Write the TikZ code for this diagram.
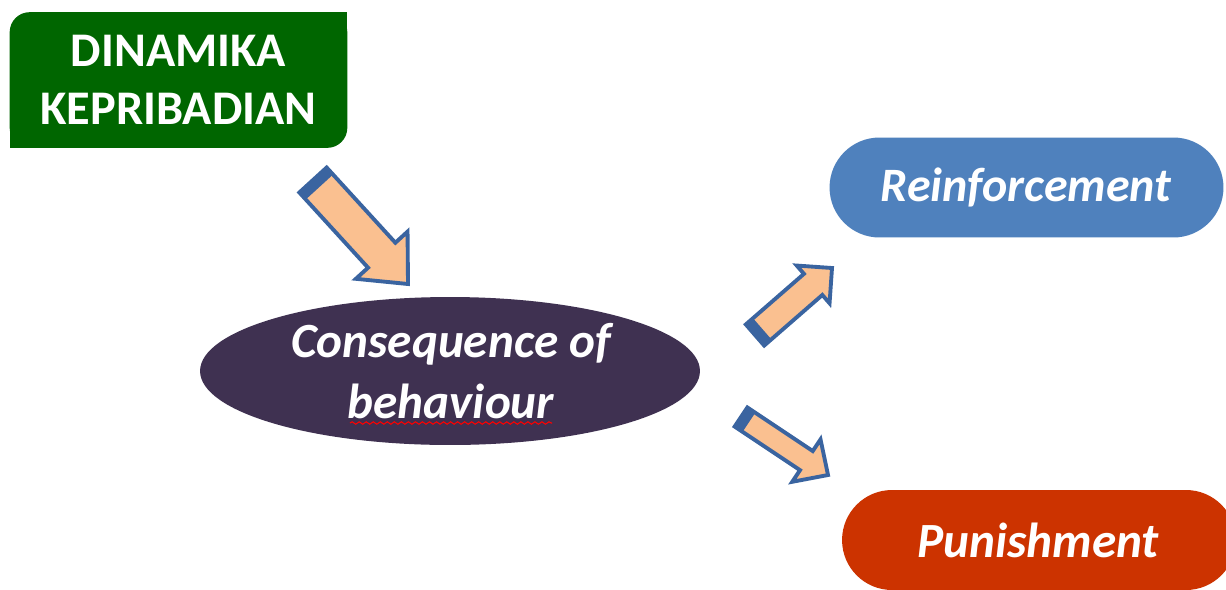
\documentclass[tikz,border=0pt]{standalone}
\usepackage{fontspec}
\setmainfont{Carlito}
\usetikzlibrary{calc,shapes.geometric,decorations.pathmorphing}
\definecolor{dkgreen}{HTML}{006600}
\definecolor{plum}{HTML}{3F3151}
\definecolor{steel}{HTML}{4F81BD}
\definecolor{rust}{HTML}{CC3300}
\definecolor{peach}{HTML}{FAC090}
\definecolor{arrline}{HTML}{3A64A0}
\tikzset{
  arrowbody/.style={fill=peach,draw=arrline,line width=2.2pt,line join=miter},
  arrowband/.style={fill=arrline},
  wtext/.style={text=white,align=center,inner sep=0pt},
  pill/.style={rounded corners=1cm,minimum width=7.88cm,minimum height=2cm,inner sep=0pt}
}
\newcommand\blockarr[5]{%
  \coordinate (#1n) at ($(#2)!#5!(#1)$);
  \coordinate (#1b) at ($(#1)!0.19cm!(#2)$);
  \filldraw[arrowbody] ($(#1)!#3!90:(#2)$) -- ($(#1n)!#3!90:(#2)$) -- ($(#1n)!#4!90:(#2)$) -- (#2) -- ($(#1n)!#4!-90:(#2)$) -- ($(#1n)!#3!-90:(#2)$) -- ($(#1)!#3!-90:(#2)$) -- cycle;
  \fill[arrowband] ($(#1)!#3!90:(#2)$) -- ($(#1b)!#3!90:(#2)$) -- ($(#1b)!#3!-90:(#2)$) -- ($(#1)!#3!-90:(#2)$) -- cycle;
}
\begin{document}
\begin{tikzpicture}[x=0.02cm,y=-0.02cm]
\clip (0,0) rectangle (1226,589);
\fill[white] (0,0) rectangle (1226,589);
% green box
\node[minimum width=6.74cm,minimum height=2.7cm,inner sep=0pt] (dk) at (178.5,80) {};
\fill[dkgreen,rounded corners=0.4cm] (dk.south west) rectangle (dk.north east);
\fill[dkgreen] (dk.north east) rectangle ++(-30,30);
\fill[dkgreen] (dk.south west) rectangle ++(30,-30);
\node[wtext,font=\bfseries\fontsize{27.5}{33}\selectfont] (dkt) at (178.5,80) {DINAMIKA\\KEPRIBADIAN};
% ellipse
\node[ellipse,fill=plum,minimum width=10cm,minimum height=2.96cm,inner sep=0pt] (cons) at (450,371) {};
\node[wtext,font=\bfseries\itshape\fontsize{28}{35}\selectfont] (const) at (451,371) {Consequence of\\behaviour};
\draw[red,line width=0.6pt,decorate,decoration={snake,segment length=4pt,amplitude=0.7pt}] (350,423) -- (552,423);
% pills
\node[pill,fill=steel] (rein) at (1026.5,187.5) {};
\node[wtext,font=\bfseries\itshape\fontsize{27.3}{31}\selectfont] (reint) at (1026,187) {Reinforcement};
\node[pill,fill=rust] (pun) at (1039,540) {};
\node[wtext,font=\bfseries\itshape\fontsize{28}{33}\selectfont] (punt) at (1038,540) {Punishment};
% arrows
\coordinate (a1) at (313,180); \coordinate (h1) at (408,284);
\coordinate (a2) at (755,335); \coordinate (h2) at (832,268);
\coordinate (a3) at (741,417); \coordinate (h3) at (828,475);
\blockarr{a1}{h1}{0.37cm}{0.70cm}{0.78cm}
\blockarr{a2}{h2}{0.28cm}{0.50cm}{0.50cm}
\blockarr{a3}{h3}{0.23cm}{0.51cm}{0.52cm}
\end{tikzpicture}
\end{document}
